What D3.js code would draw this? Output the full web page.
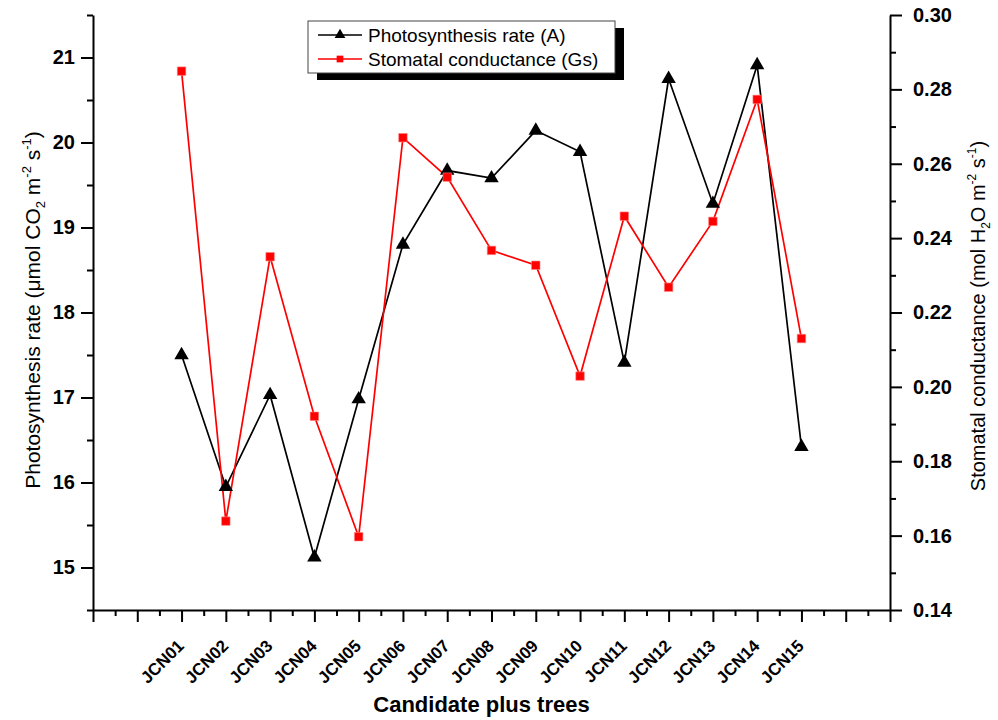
<!DOCTYPE html>
<html>
<head>
<meta charset="utf-8">
<script src="https://cdn.jsdelivr.net/npm/d3@7/dist/d3.min.js"></script>
<style>
  html, body { margin: 0; padding: 0; background: #fff; }
  svg { display: block; }
  text { font-family: "Liberation Sans", Arial, sans-serif; }
</style>
</head>
<body>
<svg id="chart" width="998" height="720"></svg>
<script>
const categories = ["JCN01","JCN02","JCN03","JCN04","JCN05","JCN06","JCN07","JCN08","JCN09","JCN10","JCN11","JCN12","JCN13","JCN14","JCN15"];
const photosynthesis = [17.50, 15.95, 17.03, 15.12, 16.98, 18.80, 19.67, 19.58, 20.14, 19.89, 17.41, 20.75, 19.28, 20.91, 16.42];
const conductance = [0.2849, 0.1639, 0.2350, 0.1921, 0.1597, 0.2670, 0.2564, 0.2367, 0.2327, 0.2029, 0.2459, 0.2268, 0.2445, 0.2773, 0.2130];
const leftTicks = [15, 16, 17, 18, 19, 20, 21];
const rightTicks = [0.14, 0.16, 0.18, 0.20, 0.22, 0.24, 0.26, 0.28, 0.30];
const seriesNames = ["Photosynthesis rate (A)", "Stomatal conductance (Gs)"];

const svg = d3.select("#chart");
const L = 93, R = 890, T = 15, B = 610;

const x = d3.scaleLinear().domain([-1, 17]).range([L, R]);
const yA = d3.scaleLinear().domain([14.5, 21.5]).range([B, T]);
const yG = d3.scaleLinear().domain([0.14, 0.30]).range([B, T]);

const idx = categories.map((c, i) => i + 1);

function styleAxis(g) {
  g.selectAll(".domain").attr("stroke", "#000").attr("stroke-width", 2);
  g.selectAll(".tick line").attr("stroke", "#000").attr("stroke-width", 2);
}

// X minor ticks
const xMinor = d3.range(-0.5, 17, 1);
svg.append("g").attr("transform", `translate(0,${B})`)
  .call(d3.axisBottom(x).tickValues(xMinor).tickSize(6).tickFormat(""))
  .call(styleAxis).call(g => g.select(".domain").remove());
// X major ticks
const gx = svg.append("g").attr("transform", `translate(0,${B})`)
  .call(d3.axisBottom(x).tickValues(d3.range(-1, 18, 1)).tickSize(12).tickSizeOuter(0)
    .tickFormat(d => (d >= 1 && d <= categories.length) ? categories[d - 1] : ""))
  .call(styleAxis);
gx.selectAll(".tick text")
  .attr("font-size", 17).attr("font-weight", "bold").attr("fill", "#000")
  .attr("text-anchor", "end")
  .attr("y", 0).attr("dy", 0)
  .attr("transform", "translate(3,37) rotate(-45)");

// Left axis
const yAMinor = d3.range(14.5, 21.6, 1);
svg.append("g").attr("transform", `translate(${L},0)`)
  .call(d3.axisLeft(yA).tickValues(yAMinor).tickSize(6).tickFormat(""))
  .call(styleAxis).call(g => g.select(".domain").remove());
const gyA = svg.append("g").attr("transform", `translate(${L},0)`)
  .call(d3.axisLeft(yA).tickValues(leftTicks).tickSize(12).tickSizeOuter(0).tickFormat(d3.format("d")))
  .call(styleAxis);
gyA.selectAll(".tick text").attr("font-size", 20).attr("font-weight", "bold").attr("fill", "#000").attr("x", -18);

// Right axis
const yGMinor = d3.range(0.15, 0.30, 0.02);
svg.append("g").attr("transform", `translate(${R},0)`)
  .call(d3.axisRight(yG).tickValues(yGMinor).tickSize(6).tickFormat(""))
  .call(styleAxis).call(g => g.select(".domain").remove());
const gyG = svg.append("g").attr("transform", `translate(${R},0)`)
  .call(d3.axisRight(yG).tickValues(rightTicks).tickSize(12).tickSizeOuter(0).tickFormat(d3.format(".2f")))
  .call(styleAxis);
gyG.selectAll(".tick text").attr("font-size", 20).attr("font-weight", "bold").attr("fill", "#000").attr("x", 23);

// ---- Axis titles ----
const lt = svg.append("text")
  .attr("transform", `translate(40,310) rotate(-90)`)
  .attr("text-anchor", "middle").attr("font-size", 21).attr("fill", "#000");
lt.append("tspan").text("Photosynthesis rate (\u03BCmol CO");
lt.append("tspan").text("2").attr("font-size", 13).attr("dy", 5);
lt.append("tspan").text(" m").attr("dy", -5);
lt.append("tspan").text("-2").attr("font-size", 13).attr("dy", -9);
lt.append("tspan").text(" s").attr("dy", 9);
lt.append("tspan").text("-1").attr("font-size", 13).attr("dy", -9);
lt.append("tspan").text(")").attr("dy", 9);

const rt = svg.append("text")
  .attr("transform", `translate(985,316) rotate(-90)`)
  .attr("text-anchor", "middle").attr("font-size", 20).attr("fill", "#000");
rt.append("tspan").text("Stomatal conductance (mol H");
rt.append("tspan").text("2").attr("font-size", 12).attr("dy", 5);
rt.append("tspan").text("O m").attr("dy", -5);
rt.append("tspan").text("-2").attr("font-size", 12).attr("dy", -9);
rt.append("tspan").text(" s").attr("dy", 9);
rt.append("tspan").text("-1").attr("font-size", 12).attr("dy", -9);
rt.append("tspan").text(")").attr("dy", 9);

svg.append("text").attr("x", (L + R) / 2 - 10).attr("y", 712)
  .attr("text-anchor", "middle").attr("font-size", 22).attr("font-weight", "bold")
  .attr("fill", "#000").text("Candidate plus trees");

// ---- Series ----
const lineA = d3.line().x((d, i) => x(idx[i])).y(d => yA(d));
const lineG = d3.line().x((d, i) => x(idx[i])).y(d => yG(d));

svg.append("path").datum(photosynthesis).attr("d", lineA)
  .attr("fill", "none").attr("stroke", "#000").attr("stroke-width", 1.7);
svg.append("path").datum(conductance).attr("d", lineG)
  .attr("fill", "none").attr("stroke", "#ff0000").attr("stroke-width", 1.7);

const tri = d3.symbol().type(d3.symbolTriangle).size(90);
const sq = d3.symbol().type(d3.symbolSquare).size(72);

svg.append("g").selectAll("path").data(photosynthesis).join("path")
  .attr("d", tri)
  .attr("transform", (d, i) => `translate(${x(idx[i])},${yA(d)})`)
  .attr("fill", "#000");
svg.append("g").selectAll("path").data(conductance).join("path")
  .attr("d", sq)
  .attr("transform", (d, i) => `translate(${x(idx[i])},${yG(d)})`)
  .attr("fill", "#ff0000").attr("stroke", "#ff8080").attr("stroke-width", 0.6);

// ---- Legend ----
const lg = svg.append("g");
const lx = 308, ly = 21, lw = 307, lh = 52;
lg.append("rect").attr("x", lx + 9).attr("y", ly + 7).attr("width", lw).attr("height", lh).attr("fill", "#000");
lg.append("rect").attr("x", lx).attr("y", ly).attr("width", lw).attr("height", lh)
  .attr("fill", "#fff").attr("stroke", "#444").attr("stroke-width", 1);
const colors = ["#000", "#ff0000"];
seriesNames.forEach((name, i) => {
  const cy = ly + 14 + i * 24;
  lg.append("line").attr("x1", lx + 10).attr("x2", lx + 54).attr("y1", cy).attr("y2", cy)
    .attr("stroke", colors[i]).attr("stroke-width", 1.4);
  lg.append("path").attr("d", d3.symbol().type(i === 0 ? d3.symbolTriangle : d3.symbolSquare).size(i === 0 ? 50 : 45))
    .attr("transform", `translate(${lx + 32},${cy})`).attr("fill", colors[i]);
  lg.append("text").attr("x", lx + 60).attr("y", cy + 7).attr("font-size", 19)
    .attr("fill", "#000").text(name);
});
</script>
</body>
</html>
